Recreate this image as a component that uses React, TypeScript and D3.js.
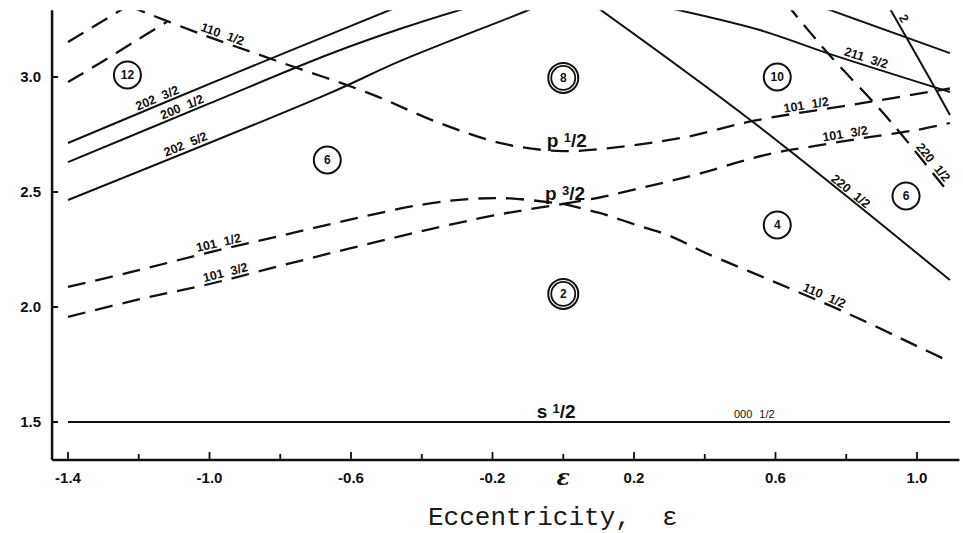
import React from "react";
import * as d3 from "d3";

const WIDTH = 963;
const HEIGHT = 533;

// Eccentricity axis
const xTickValues = [-1.4, -1.2, -1.0, -0.8, -0.6, -0.4, -0.2, 0, 0.2, 0.4, 0.6, 0.8, 1.0];
const xLabelValues = [-1.4, -1.0, -0.6, -0.2, 0, 0.2, 0.6, 1.0];
const xLabelTexts = ["-1.4", "-1.0", "-0.6", "-0.2", "ε", "0.2", "0.6", "1.0"];

// Energy axis (units of ħω)
const yTickValues = [1.5, 2.0, 2.5, 3.0];
const yTickTexts = ["1.5", "2.0", "2.5", "3.0"];

// Frame extents in data units
const epsFrame = [-1.445, 1.12];
const energyFrame = [1.335, 3.29];

// s1/2 level: 000 1/2
const s12Eps = [-1.4, 1.093];
const s12Energy = [1.5, 1.5];

// p1/2 level: 110 1/2 (oblate) -> 101 1/2 (prolate)
const p12Eps = [-1.23, -1.03, -0.81, -0.55, -0.35, -0.17, 0, 0.18, 0.35, 0.54, 0.84, 1.093];
const p12Energy = [3.31, 3.19, 3.07, 2.93, 2.8, 2.71, 2.678, 2.7, 2.74, 2.81, 2.885, 2.95];

// p3/2 branches, oblate side
const p32aEps = [-1.4, -1.2, -1.0, -0.8, -0.6, -0.4, -0.26, -0.15, 0];
const p32aEnergy = [2.087, 2.16, 2.238, 2.309, 2.381, 2.445, 2.47, 2.472, 2.448];
const p32bEps = [-1.4, -1.2, -1.0, -0.8, -0.6, -0.4, -0.2, -0.1, 0];
const p32bEnergy = [1.957, 2.033, 2.1, 2.179, 2.256, 2.33, 2.397, 2.424, 2.448];

// p3/2 branches, prolate side
const p32cEps = [0, 0.1, 0.2, 0.3, 0.4, 0.6, 0.8, 1.0, 1.093];
const p32cEnergy = [2.448, 2.41, 2.36, 2.31, 2.237, 2.107, 1.975, 1.83, 1.762];
const p32dEps = [0, 0.1, 0.2, 0.3, 0.4, 0.5, 0.6, 0.7, 0.85, 1.0, 1.093];
const p32dEnergy = [2.448, 2.475, 2.51, 2.547, 2.586, 2.632, 2.671, 2.697, 2.735, 2.77, 2.8];

// sd-shell levels, oblate side
const d1Eps = [-1.4, -1.22];
const d1Energy = [3.152, 3.32];
const d2Eps = [-1.4, -1.3, -1.2, -1.12];
const d2Energy = [2.978, 3.07, 3.165, 3.24];
const sd1Eps = [-1.4, -0.93, -0.46];
const sd1Energy = [2.713, 3.015, 3.31];
const sd2Eps = [-1.4, -1.0, -0.66, -0.45, -0.22];
const sd2Energy = [2.63, 2.885, 3.1, 3.215, 3.325];
const sd3Eps = [-1.4, -0.66, -0.46, -0.1, -0.04];
const sd3Energy = [2.465, 2.93, 3.07, 3.29, 3.33];

// sd-shell levels, prolate side
const r1Eps = [0.08, 0.54, 1.093];
const r1Energy = [3.32, 2.8, 2.117];
const r2Eps = [0.27, 0.556, 0.746, 1.093];
const r2Energy = [3.31, 3.204, 3.104, 2.935];
const r3Eps = [0.72, 1.093];
const r3Energy = [3.31, 3.104];
const r4Eps = [0.915, 1.037, 1.093];
const r4Energy = [3.32, 2.99, 2.835];
const r5Eps = [0.63, 0.75, 0.88, 0.94, 1.093];
const r5Energy = [3.32, 3.1, 2.885, 2.78, 2.49];

const curves = [
  { id: "s12", eps: s12Eps, energy: s12Energy, dashed: false },
  { id: "p12", eps: p12Eps, energy: p12Energy, dashed: true },
  { id: "a", eps: p32aEps, energy: p32aEnergy, dashed: true },
  { id: "b", eps: p32bEps, energy: p32bEnergy, dashed: true },
  { id: "c", eps: p32cEps, energy: p32cEnergy, dashed: true },
  { id: "d", eps: p32dEps, energy: p32dEnergy, dashed: true },
  { id: "d1", eps: d1Eps, energy: d1Energy, dashed: true },
  { id: "d2", eps: d2Eps, energy: d2Energy, dashed: true },
  { id: "sd1", eps: sd1Eps, energy: sd1Energy, dashed: false },
  { id: "sd2", eps: sd2Eps, energy: sd2Energy, dashed: false },
  { id: "sd3", eps: sd3Eps, energy: sd3Energy, dashed: false },
  { id: "r1", eps: r1Eps, energy: r1Energy, dashed: false },
  { id: "r2", eps: r2Eps, energy: r2Energy, dashed: false },
  { id: "r3", eps: r3Eps, energy: r3Energy, dashed: false },
  { id: "r4", eps: r4Eps, energy: r4Energy, dashed: false },
  { id: "r5", eps: r5Eps, energy: r5Energy, dashed: true },
];

// Asymptotic quantum-number labels, placed along their curves
const labelCurves = ["p12", "sd1", "sd2", "sd3", "a", "b", "p12", "d", "r2", "r1", "r5", "c", "r4"];
const labelTexts = ["110 1/2", "202 3/2", "200 1/2", "202 5/2", "101 1/2", "101 3/2", "101 1/2", "101 3/2", "211 3/2", "220 1/2", "220 1/2", "110 1/2", "2"];
const labelEps = [-0.97, -1.14, -1.07, -1.06, -0.97, -0.95, 0.69, 0.8, 0.85, 0.8, 1.03, 0.73, 0.945];

// Spherical-level labels
const levelOrbitals = ["p", "p", "s"];
const levelNumerators = ["1", "3", "1"];
const levelEps = [0.01, 0.005, -0.02];
const levelEnergy = [2.678, 2.448, 1.5];

// Shell-closure numbers
const shellNumbers = ["12", "6", "8", "10", "4", "6", "2"];
const shellEps = [-1.232, -0.667, 0, 0.605, 0.605, 0.969, 0];
const shellEnergy = [3.009, 2.639, 2.996, 3.0, 2.357, 2.483, 2.057];
const shellMagic = [false, false, true, false, false, false, true];

const x = d3.scaleLinear().domain([-1.4, 1.0]).range([68, 917]);
const y = d3.scaleLinear().domain([1.5, 3.0]).range([422, 77]);

const line = d3
  .line<[number, number]>()
  .x((d) => x(d[0]))
  .y((d) => y(d[1]))
  .curve(d3.curveCatmullRom.alpha(0.5));

const tickFont = "'Liberation Sans', Arial, sans-serif";

export default function App() {
  const left = x(epsFrame[0]);
  const right = x(epsFrame[1]);
  const top = y(energyFrame[1]);
  const bottom = y(energyFrame[0]);
  const curveById = new Map(curves.map((c) => [c.id, c]));

  const labels = labelTexts.map((text, i) => {
    const c = curveById.get(labelCurves[i])!;
    const f = d3.scaleLinear().domain(c.eps).range(c.energy);
    const e = labelEps[i];
    const h = 0.015;
    const angle =
      (Math.atan2(y(f(e + h)) - y(f(e - h)), x(e + h) - x(e - h)) * 180) / Math.PI;
    return { text, px: x(e), py: y(f(e)), angle };
  });

  return (
    <svg
      width={WIDTH}
      height={HEIGHT}
      style={{ position: "absolute", left: 0, top: 0, background: "#fff" }}
    >
      <defs>
        <clipPath id="plot-area">
          <rect x={left} y={top} width={right - left} height={bottom - top} />
        </clipPath>
      </defs>
      <rect width={WIDTH} height={HEIGHT} fill="#fff" />

      {/* level curves */}
      <g clipPath="url(#plot-area)" fill="none" stroke="#111">
        {curves.map((c) => (
          <path
            key={c.id}
            d={line(c.eps.map((e, i) => [e, c.energy[i]] as [number, number])) || ""}
            strokeWidth={c.dashed ? 2.3 : 2}
            strokeDasharray={c.dashed ? "18 10" : undefined}
          />
        ))}
      </g>

      {/* curve labels */}
      <g clipPath="url(#plot-area)" fill="#111" fontFamily={tickFont} fontWeight="bold" fontSize={12.5}>
        {labels.map((l, i) => (
          <g key={i} transform={`translate(${l.px},${l.py}) rotate(${l.angle})`}>
            <text y={-3} textAnchor="middle" wordSpacing={4}>
              {l.text}
            </text>
          </g>
        ))}
      </g>

      {/* spherical level labels */}
      <g fill="#111" fontFamily={tickFont} fontWeight="bold">
        {levelOrbitals.map((o, i) => (
          <text
            key={i}
            x={x(levelEps[i])}
            y={y(levelEnergy[i]) - 4}
            textAnchor="middle"
            fontSize={19}
          >
            {o}{" "}
            <tspan fontSize={13} dy={-5}>{levelNumerators[i]}</tspan>
            <tspan dy={5}>/2</tspan>
          </text>
        ))}
        <text x={x(0.54)} y={y(1.5) - 4} textAnchor="middle" fontSize={11} fontWeight="normal" wordSpacing={4}>
          000 1/2
        </text>
      </g>

      {/* shell-closure numbers */}
      <g fontFamily={tickFont} fontWeight="bold" fontSize={12}>
        {shellNumbers.map((n, i) => (
          <g key={i} transform={`translate(${x(shellEps[i])},${y(shellEnergy[i])})`}>
            <circle r={shellMagic[i] ? 15 : 13.5} fill="#fff" stroke="#111" strokeWidth={2} />
            {shellMagic[i] && <circle r={12} fill="none" stroke="#111" strokeWidth={1.8} />}
            <text textAnchor="middle" dy="0.36em" fill="#111">
              {n}
            </text>
          </g>
        ))}
      </g>

      {/* axes */}
      <g stroke="#111" fill="none">
        <line x1={left} x2={left} y1={top} y2={bottom} strokeWidth={2.5} />
        <line x1={left} x2={right} y1={bottom} y2={bottom} strokeWidth={2.5} />
        {yTickValues.map((v) => (
          <line key={v} x1={left} x2={left + 6} y1={y(v)} y2={y(v)} strokeWidth={2} />
        ))}
        {xTickValues.map((v, i) => (
          <line
            key={v}
            x1={x(v)}
            x2={x(v)}
            y1={bottom}
            y2={bottom - (i % 2 === 0 ? 8 : 6)}
            strokeWidth={1.8}
          />
        ))}
      </g>

      <g fill="#111" fontFamily={tickFont} fontWeight="bold" fontSize={15}>
        {yTickTexts.map((t, i) => (
          <text key={t} x={left - 11} y={y(yTickValues[i])} dy="0.35em" textAnchor="end">
            {t}
          </text>
        ))}
        {xLabelTexts.map((t, i) =>
          t === "ε" ? (
            <text
              key={t}
              x={x(xLabelValues[i])}
              y={bottom + 25}
              textAnchor="middle"
              fontSize={22}
              fontStyle="italic"
              fontFamily="'DejaVu Serif', serif"
            >
              {t}
            </text>
          ) : (
            <text key={t} x={x(xLabelValues[i])} y={bottom + 23} textAnchor="middle">
              {t}
            </text>
          )
        )}
      </g>

      <text
        x={428}
        y={525}
        fontFamily="'Liberation Mono', 'Courier New', monospace"
        fontSize={26}
        fill="#1a1a1a"
        xmlSpace="preserve"
        style={{ whiteSpace: "pre" }}
      >
        {"Eccentricity,  ε"}
      </text>
    </svg>
  );
}
